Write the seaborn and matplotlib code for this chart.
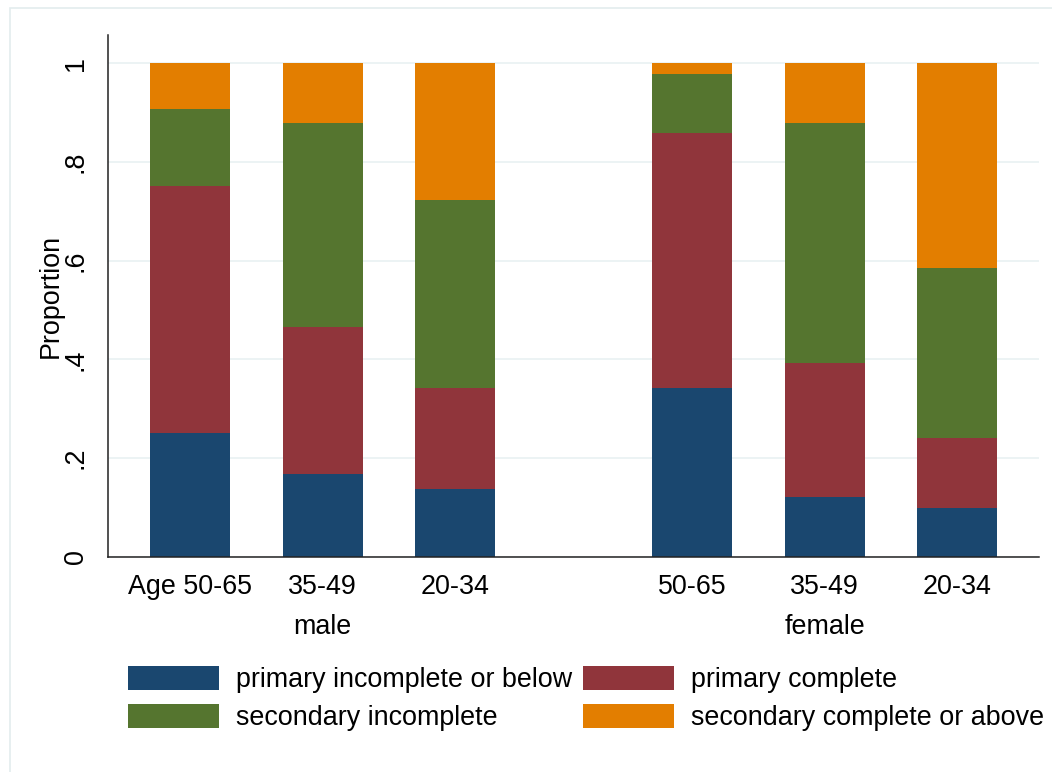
import numpy as np
import pandas as pd
import matplotlib
matplotlib.use("Agg")
import matplotlib.pyplot as plt
from matplotlib.patches import Patch, Rectangle
import seaborn as sns

# Education shares by sex and age group (each bar sums to 1)
sexes = ["male", "female"]
age_groups = ["50-65", "35-49", "20-34"]
tick_labels = ["Age 50-65", "35-49", "20-34", "50-65", "35-49", "20-34"]
levels = ["primary incomplete or below", "primary complete",
          "secondary incomplete", "secondary complete or above"]
primary_incomplete = [0.252, 0.168, 0.137, 0.343, 0.121, 0.100]
primary_complete = [0.499, 0.298, 0.206, 0.515, 0.271, 0.141]
secondary_incomplete = [0.156, 0.413, 0.380, 0.120, 0.486, 0.344]
secondary_complete = [0.093, 0.121, 0.277, 0.022, 0.122, 0.415]
colors = ["#1a476f", "#90353b", "#55752f", "#e37e00"]

# bar positions: three age groups per sex, with a wider gap between the sexes
group_gap = 1.79
positions = [0.0, 1.0, 2.0, 2.0 + group_gap, 3.0 + group_gap, 4.0 + group_gap]

shares = np.array([primary_incomplete, primary_complete,
                   secondary_incomplete, secondary_complete])
cumulative = shares.cumsum(axis=0)

rows = []
for li, level in enumerate(levels):
    for pi, pos in enumerate(positions):
        rows.append({"pos": pos, "level": level, "top": cumulative[li, pi]})
df = pd.DataFrame(rows)

sns.set_style("white")
plt.rcParams["font.family"] = ["Liberation Sans", "DejaVu Sans"]
plt.rcParams["text.color"] = "black"
plt.rcParams["xtick.color"] = "black"
plt.rcParams["ytick.color"] = "black"
plt.rcParams["axes.labelcolor"] = "black"

FS = 19.4
W, H = 1052, 772
fig = plt.figure(figsize=(W / 100, H / 100), dpi=100)
fig.patch.set_facecolor("white")

# outer graph-region frame
fig.add_artist(Rectangle((10 / W, -0.1), 1.2, (H - 8) / H + 0.1,
                         transform=fig.transFigure, fill=False,
                         edgecolor="#e3ecee", lw=1.2))

ax_left, ax_right, ax_top, ax_bottom = 108, 1039, 35, 557
ax = fig.add_axes([ax_left / W, 1 - ax_bottom / H,
                   (ax_right - ax_left) / W, (ax_bottom - ax_top) / H])

# stacked bars: draw cumulative totals from the top level down
for li in range(len(levels) - 1, -1, -1):
    sub = df[df["level"] == levels[li]]
    sns.barplot(data=sub, x="pos", y="top", native_scale=True, width=0.604,
                color=colors[li], saturation=1, linewidth=0, errorbar=None,
                ax=ax, zorder=2)

ax.set_xlim(-0.619, 6.407)
ax.set_ylim(0, 1.057)

yt = [0, 0.2, 0.4, 0.6, 0.8, 1.0]
ax.set_yticks(yt)
ax.set_yticklabels(["0", ".2", ".4", ".6", ".8", "1"], rotation=90,
                   va="center", fontsize=FS)
for y in yt:
    ax.axhline(y, color="#eaf2f3", lw=1.3, zorder=0)
ax.tick_params(axis="y", length=8, width=1, color="#222222", pad=6)

ax.set_xticks(positions)
ax.set_xticklabels(tick_labels, fontsize=FS)
ax.tick_params(axis="x", length=0, pad=12)
ax.set_xlabel("")
ax.set_ylabel("Proportion", fontsize=FS)
ax.yaxis.set_label_coords((64 - ax_left) / (ax_right - ax_left), 0.5)

for side in ["top", "right"]:
    ax.spines[side].set_visible(False)
for side in ["left", "bottom"]:
    ax.spines[side].set_color("#222222")
    ax.spines[side].set_linewidth(1.1)

# sex labels centred under each group
for si, sex in enumerate(sexes):
    centre = np.mean(positions[si * 3:(si + 1) * 3])
    ax.text(centre, -0.134, sex, transform=ax.get_xaxis_transform(),
            ha="center", va="center", fontsize=FS)

# legend filled row by row: two entries per row
em = FS * 100 / 72
order = [0, 2, 1, 3]
handles = [Patch(facecolor=colors[i], edgecolor="none") for i in order]
labels = [levels[i] for i in order]
fig.legend(handles, labels, loc="upper left",
           bbox_to_anchor=(128 / W, 1 - 666 / H), ncol=2, frameon=False,
           fontsize=FS, handlelength=91 / em, handleheight=27 / em,
           handletextpad=17 / em, columnspacing=11 / em, labelspacing=0.40,
           borderpad=0, borderaxespad=0)

fig.savefig("out.png", dpi=100)
